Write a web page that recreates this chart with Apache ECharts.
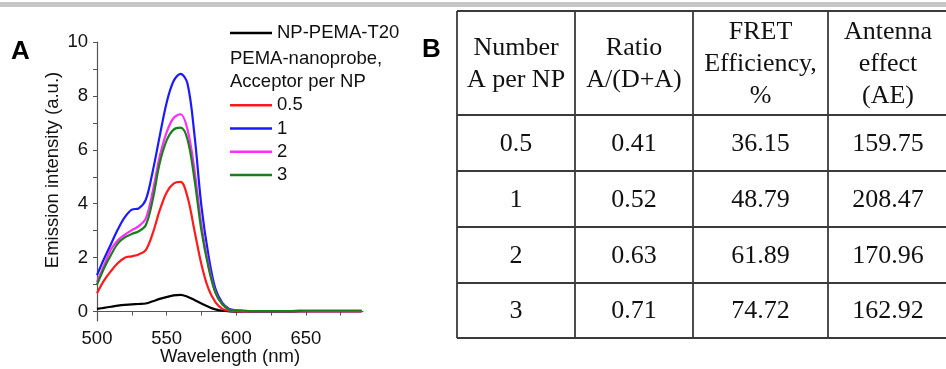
<!DOCTYPE html>
<html>
<head>
<meta charset="utf-8">
<script src="https://cdn.jsdelivr.net/npm/echarts@6/dist/echarts.min.js"></script>
<style>
  html, body { margin: 0; padding: 0; background: #fff; }
  #main { width: 946px; height: 369px; }
</style>
</head>
<body>
<div id="main"></div>
<script>
// wavelength grid (nm)
var wavelength = [500, 505, 510, 515, 520, 525, 530, 535, 540, 545, 550, 555, 560, 565, 570, 575, 580, 585, 590, 595, 600, 605, 610, 620, 630, 640, 650, 660, 670, 680, 690];

// emission spectra
var npPemaT20 = [0.10, 0.14, 0.18, 0.22, 0.25, 0.27, 0.28, 0.30, 0.38, 0.47, 0.54, 0.60, 0.62, 0.55, 0.43, 0.30, 0.18, 0.08, 0.03, 0.01, 0.00, 0.00, 0.00, 0.00, 0.00, 0.00, 0.01, 0.01, 0.01, 0.01, 0.01];
var acc05 = [0.68, 1.15, 1.50, 1.80, 2.00, 2.05, 2.12, 2.28, 2.90, 3.75, 4.42, 4.75, 4.81, 4.25, 3.00, 1.75, 0.85, 0.35, 0.10, 0.03, 0.01, 0.01, 0.01, 0.01, 0.01, 0.01, 0.02, 0.02, 0.02, 0.02, 0.02];
var acc1 = [1.35, 1.95, 2.50, 3.05, 3.50, 3.78, 3.83, 4.14, 5.20, 6.50, 7.75, 8.55, 8.82, 8.45, 6.55, 3.90, 2.10, 0.85, 0.32, 0.10, 0.05, 0.03, 0.02, 0.02, 0.02, 0.02, 0.03, 0.03, 0.03, 0.03, 0.03];
var acc2 = [1.10, 1.70, 2.30, 2.65, 2.85, 3.02, 3.17, 3.45, 4.45, 5.75, 6.65, 7.18, 7.32, 6.75, 5.25, 3.20, 1.75, 0.72, 0.27, 0.08, 0.04, 0.02, 0.02, 0.02, 0.02, 0.02, 0.02, 0.02, 0.02, 0.02, 0.02];
var acc3 = [1.00, 1.60, 2.10, 2.53, 2.75, 2.88, 2.98, 3.20, 4.15, 5.50, 6.35, 6.75, 6.82, 6.38, 4.90, 3.00, 1.65, 0.70, 0.27, 0.08, 0.04, 0.03, 0.02, 0.02, 0.02, 0.02, 0.03, 0.03, 0.03, 0.03, 0.03];

var seriesNames = ['NP-PEMA-T20', '0.5', '1', '2', '3'];
var seriesColors = ['#000000', '#ff1a1a', '#1a1aff', '#ff2bff', '#1a7f1a'];
var seriesValues = [npPemaT20, acc05, acc1, acc2, acc3];

var yLabels = [0, 2, 4, 6, 8, 10];
var yTicks = [0, 1, 2, 3, 4, 5, 6, 7, 8, 9, 10];
var xLabels = [500, 550, 600, 650];
var xTicks = [500, 525, 550, 575, 600, 625, 650, 675];

// table B
var tableHeader = ['Number\nA per NP', 'Ratio\nA/(D+A)', 'FRET\nEfficiency,\n%', 'Antenna\neffect\n(AE)'];
var numberAperNP = ['0.5', '1', '2', '3'];
var ratioDA = ['0.41', '0.52', '0.63', '0.71'];
var fretEff = ['36.15', '48.79', '61.89', '74.72'];
var antennaEffect = ['159.75', '208.47', '170.96', '162.92'];

var colX = [457, 575, 693, 828, 948];
var rowY = [11, 115, 171, 227, 283, 338];

var sans = 'Liberation Sans, Arial, sans-serif';
var serif = 'Liberation Serif, Times New Roman, serif';

var series = [];
for (var i = 0; i < seriesNames.length; i++) {
    var pts = [];
    for (var j = 0; j < wavelength.length; j++) {
        pts.push([wavelength[j], seriesValues[i][j]]);
    }
    series.push({
        name: seriesNames[i],
        type: 'line',
        data: pts,
        smooth: 0.35,
        showSymbol: false,
        lineStyle: { width: 2.2, color: seriesColors[i] },
        itemStyle: { color: seriesColors[i] },
        z: i === 0 ? 2 : 3
    });
}

// table graphics
var tableEls = [];
var lineStyle = { stroke: '#3a3a3a', lineWidth: 1.8 };
for (var r = 0; r < rowY.length; r++) {
    tableEls.push({ type: 'line', shape: { x1: colX[0], y1: rowY[r], x2: colX[colX.length - 1], y2: rowY[r] }, style: lineStyle });
}
for (var c = 0; c < colX.length; c++) {
    tableEls.push({ type: 'line', shape: { x1: colX[c], y1: rowY[0], x2: colX[c], y2: rowY[rowY.length - 1] }, style: lineStyle });
}
var cols = [numberAperNP, ratioDA, fretEff, antennaEffect];
for (var c = 0; c < 4; c++) {
    var cx = (colX[c] + colX[c + 1]) / 2;
    tableEls.push({
        type: 'text', x: cx, y: (rowY[0] + rowY[1]) / 2 + 1,
        style: { text: tableHeader[c], font: '26px ' + serif, fill: '#111', align: 'center', verticalAlign: 'middle', lineHeight: 32 }
    });
    for (var r = 0; r < 4; r++) {
        tableEls.push({
            type: 'text', x: cx, y: (rowY[r + 1] + rowY[r + 2]) / 2 + 1,
            style: { text: cols[c][r], font: '26px ' + serif, fill: '#111', align: 'center', verticalAlign: 'middle' }
        });
    }
}

var myChart = echarts.init(document.getElementById('main'));
var option = {
    backgroundColor: '#fff',
    animation: false,
    textStyle: { fontFamily: sans },
    grid: { left: 97, top: 42, width: 266, height: 279, containLabel: false, outerBoundsMode: 'none' },
    legend: [{
        data: ['NP-PEMA-T20'],
        left: 230, top: 21.5,
        padding: 0,
        icon: 'rect', itemWidth: 42, itemHeight: 2.5,
        textStyle: { fontSize: 18.5, color: '#111', fontFamily: sans, lineHeight: 23 },
        selectedMode: false
    }, {
        data: ['0.5', '1', '2', '3'],
        orient: 'vertical',
        left: 230, top: 93.5,
        padding: 0,
        itemGap: 0,
        icon: 'rect', itemWidth: 42, itemHeight: 2.5,
        textStyle: { fontSize: 18.5, color: '#111', fontFamily: sans, lineHeight: 23.3 },
        selectedMode: false
    }],
    xAxis: {
        type: 'value',
        min: 500, max: 691,
        axisLine: { lineStyle: { color: '#555', width: 1.2 } },
        axisTick: { length: 4, lineStyle: { color: '#555' }, customValues: xTicks },
        axisLabel: { fontSize: 18.5, color: '#111', margin: 8, customValues: xLabels },
        splitLine: { show: false }
    },
    yAxis: {
        type: 'value',
        min: -0.35, max: 10,
        axisLine: { show: true, lineStyle: { color: '#555', width: 1.2 } },
        axisTick: { show: true, length: 4, lineStyle: { color: '#555' }, customValues: yTicks },
        axisLabel: { fontSize: 18.5, color: '#111', margin: 9, customValues: yLabels },
        splitLine: { show: false }
    },
    graphic: [
        { type: 'rect', shape: { x: 0, y: 2, width: 946, height: 5 }, style: { fill: '#c6c6c6' } },
        { type: 'text', x: 11, y: 52, style: { text: 'A', font: 'bold 26px ' + sans, fill: '#000', verticalAlign: 'middle' } },
        { type: 'text', x: 422, y: 50, style: { text: 'B', font: 'bold 26px ' + sans, fill: '#000', verticalAlign: 'middle' } },
        { type: 'text', x: 53, y: 170, rotation: Math.PI / 2, style: { text: 'Emission intensity (a.u.)', font: '18.5px ' + sans, fill: '#111', align: 'center', verticalAlign: 'middle' } },
        { type: 'text', x: 230, y: 357, style: { text: 'Wavelength (nm)', font: '18.5px ' + sans, fill: '#111', align: 'center', verticalAlign: 'middle' } },
        { type: 'text', x: 230, y: 59, style: { text: 'PEMA-nanoprobe,', font: '18.5px ' + sans, fill: '#111', verticalAlign: 'middle' } },
        { type: 'text', x: 230, y: 82, style: { text: 'Acceptor per NP', font: '18.5px ' + sans, fill: '#111', verticalAlign: 'middle' } },
        { type: 'group', children: tableEls }
    ],
    series: series
};
myChart.setOption(option);
</script>
</body>
</html>
